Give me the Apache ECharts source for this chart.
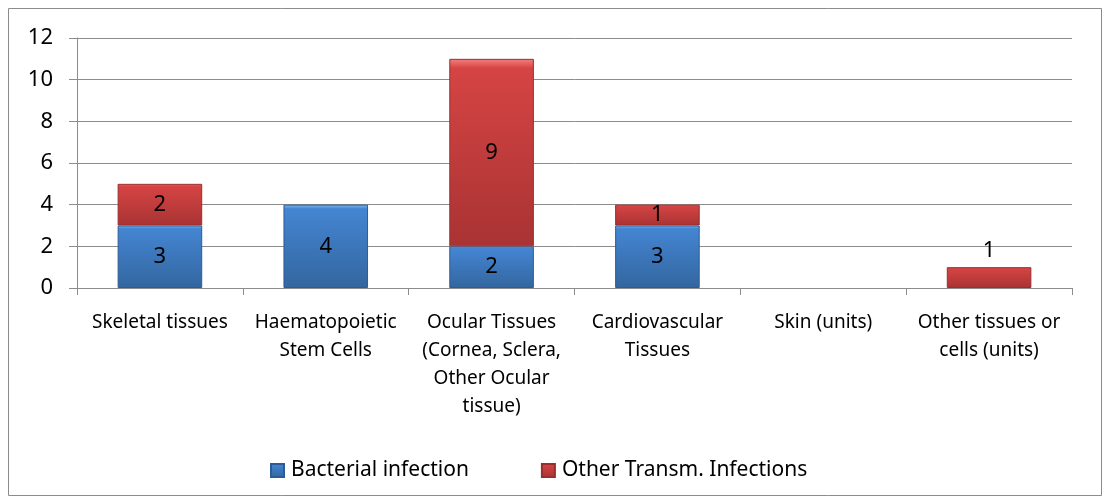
<!DOCTYPE html>
<html>
<head>
<meta charset="utf-8">
<script src="https://cdn.jsdelivr.net/npm/echarts@6/dist/echarts.min.js"></script>
<style>
  body { margin: 0; background: #fff; }
  #chart { width: 1107px; height: 497px; }
</style>
</head>
<body>
<div id="chart"></div>
<script>
// categories (line breaks as in the picture)
var categories = [
  'Skeletal tissues',
  'Haematopoietic\nStem Cells',
  'Ocular Tissues\n(Cornea, Sclera,\nOther Ocular\ntissue)',
  'Cardiovascular\nTissues',
  'Skin (units)',
  'Other tissues or\ncells (units)'
];
// Bacterial infection
var bacterial = [3, 4, 2, 3, null, null];
// Other Transm. Infections
var otherInf = [2, null, 9, 1, null, 1];
var yTicks = { min: 0, max: 12, interval: 2 };

var font = '"Noto Sans", "Open Sans", sans-serif';

function bevel(light, mid, dark) {
  return new echarts.graphic.LinearGradient(0, 0, 0, 1, [
    { offset: 0, color: light },
    { offset: 0.05, color: mid },
    { offset: 1, color: dark }
  ]);
}

var myChart = echarts.init(document.getElementById('chart'));
var option = {
  animation: false,
  backgroundColor: '#fff',
  textStyle: { fontFamily: font },
  graphic: [{
    type: 'rect',
    shape: { x: 8.5, y: 8.5, width: 1093, height: 487 },
    style: { fill: 'none', stroke: '#8c8c8c', lineWidth: 1 },
    silent: true
  }],
  grid: { left: 77, right: 35, top: 38, bottom: 209 },
  legend: {
    left: 265,
    top: 455,
    itemWidth: 13,
    itemHeight: 13,
    itemGap: 72,
    icon: 'rect',
    textStyle: { fontFamily: font, fontSize: 21, color: '#000', padding: [0, 0, 0, 2] },
    data: ['Bacterial infection', 'Other Transm. Infections']
  },
  xAxis: {
    type: 'category',
    data: categories,
    axisLine: { lineStyle: { color: '#8c8c8c', width: 1 } },
    axisTick: { show: true, length: 7, inside: false, lineStyle: { color: '#8c8c8c' } },
    axisLabel: {
      interval: 0,
      margin: 21,
      fontFamily: font,
      fontSize: 19,
      lineHeight: 28,
      color: '#000',
      align: 'center'
    }
  },
  yAxis: {
    type: 'value',
    min: yTicks.min,
    max: yTicks.max,
    interval: yTicks.interval,
    axisLine: { show: true, lineStyle: { color: '#8c8c8c', width: 1 } },
    axisTick: { show: true, length: 8, lineStyle: { color: '#8c8c8c' } },
    splitLine: { lineStyle: { color: '#8c8c8c', width: 1 } },
    axisLabel: { margin: 24, fontFamily: font, fontSize: 22, color: '#000' }
  },
  series: [{
    name: 'Bacterial infection',
    type: 'bar',
    stack: 'total',
    barWidth: '51%',
    data: bacterial,
    itemStyle: {
      color: bevel('#7fbdf5', '#4485d2', '#33669f'),
      borderColor: '#2d5b98',
      borderWidth: 1
    },
    label: {
      show: true,
      position: 'inside',
      color: '#000',
      fontFamily: font,
      fontSize: 22
    }
  }, {
    name: 'Other Transm. Infections',
    type: 'bar',
    stack: 'total',
    barWidth: '51%',
    data: otherInf.map(function (v, i) {
      // the last small bar carries its label above it
      return i === 5 ? { value: v, label: { position: 'top' } } : v;
    }),
    itemStyle: {
      color: bevel('#f48080', '#d64444', '#a93333'),
      borderColor: '#9a2e2e',
      borderWidth: 1
    },
    label: {
      show: true,
      position: 'inside',
      color: '#000',
      fontFamily: font,
      fontSize: 22
    }
  }]
};
myChart.setOption(option);
</script>
</body>
</html>
